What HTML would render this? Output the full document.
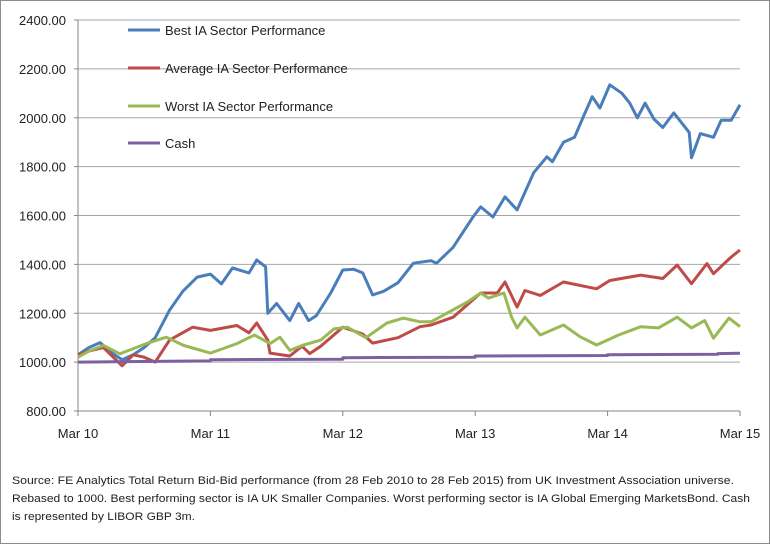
<!DOCTYPE html>
<html><head><meta charset="utf-8"><style>
html,body{margin:0;padding:0;background:#fff}
svg{display:block;font-family:"Liberation Sans",sans-serif}
</style></head><body>
<svg id="chart" width="770" height="544" viewBox="0 0 770 544" xmlns="http://www.w3.org/2000/svg">
<rect x="0.5" y="0.5" width="769" height="543" fill="#fff" stroke="#8c8c8c"/>
<g id="grid"></g>
<g id="yaxis"></g>
<g id="xaxis"></g>
<g id="series"></g>
<g id="legend"></g>
<g font-size="11" fill="#222">
<text x="12" y="484" textLength="722" lengthAdjust="spacingAndGlyphs">Source: FE Analytics Total Return Bid-Bid performance (from 28 Feb 2010 to 28 Feb 2015) from UK Investment Association universe.</text>
<text x="12" y="502" textLength="738" lengthAdjust="spacingAndGlyphs">Rebased to 1000. Best performing sector is IA UK Smaller Companies. Worst performing sector is IA Global Emerging MarketsBond. Cash</text>
<text x="12" y="520" textLength="183" lengthAdjust="spacingAndGlyphs">is represented by LIBOR GBP 3m.</text>
</g>
</svg>
<script>
const yTicks=[800,1000,1200,1400,1600,1800,2000,2200,2400];
const xTickLabels=["Mar 10","Mar 11","Mar 12","Mar 13","Mar 14","Mar 15"];
const seriesNames=["Best IA Sector Performance","Average IA Sector Performance","Worst IA Sector Performance","Cash"];
const bestMonths=[0,1,2,3,4,5,6,7,8.3,9.5,10.8,12,13,14,15.5,16.2,17,17.2,18,19.2,20,20.9,21.6,22.9,24,25,25.8,26.7,27.7,29,30.4,32,32.5,34,35.8,36.5,37.6,38.7,39.8,41.3,42.5,43,44,45,45.8,46.6,47.3,48.2,49.3,50,50.7,51.4,52.2,53,54,55.4,55.6,56.4,57.6,58.3,59.2,60];
const bestValues=[1030,1060,1080,1040,1010,1030,1060,1100,1213,1290,1348,1360,1320,1385,1365,1418,1390,1200,1240,1170,1240,1170,1190,1283,1377,1380,1365,1275,1290,1325,1405,1415,1405,1470,1594,1635,1594,1676,1623,1775,1840,1820,1900,1920,2004,2086,2040,2135,2100,2060,2000,2060,1995,1960,2020,1940,1836,1935,1920,1990,1990,2053];
const avgMonths=[0,1,2.3,4,5,6,7,8.3,10.4,12,14.4,15.5,16.2,17.2,17.4,19.2,20.3,21,22,24,25.8,26.7,29,31,32,34,36.5,38,38.7,39.8,40.5,41.9,44,47,48.2,51,53,54.3,55.6,57,57.6,59.2,60];
const avgValues=[1030,1045,1060,985,1030,1020,1000,1090,1143,1130,1150,1120,1160,1090,1037,1025,1065,1035,1065,1143,1115,1078,1100,1145,1152,1184,1283,1283,1328,1225,1293,1273,1328,1300,1334,1356,1342,1397,1321,1403,1362,1430,1459];
const worstMonths=[0,1,2.3,3.8,6.2,8,9.6,12,14.4,16,17.4,18.3,19.2,20.3,22,23.2,24.4,26.1,28,29.5,31,32,35.3,36.5,37.2,38.6,39.3,39.8,40.5,41.9,44,45.5,47,49,51,52.6,54.3,55.6,56.8,57.6,59,60];
const worstValues=[1020,1045,1068,1034,1076,1102,1068,1037,1076,1111,1076,1102,1048,1068,1090,1136,1143,1100,1160,1180,1165,1165,1246,1283,1262,1283,1184,1140,1184,1111,1152,1104,1070,1111,1145,1140,1184,1140,1170,1098,1180,1145];
const cashMonths=[0,12,12,24,24,36,36,48,48,58,58,60];
const cashValues=[1000,1005,1010,1012,1018,1020,1025,1027,1030,1032,1035,1036];
const colors=["#4a7ebb","#be4b48","#98b954","#7d60a0"];
const NS="http://www.w3.org/2000/svg";
const X0=78,X1=740,Y0=411,Y1=20;
function xs(m){return X0+(X1-X0)*m/60;}
function ys(v){return Y0-(Y0-Y1)*(v-800)/1600;}
function mk(tag,attrs,parent){const e=document.createElementNS(NS,tag);for(const k in attrs)e.setAttribute(k,attrs[k]);parent.appendChild(e);return e;}
const grid=document.getElementById('grid'),ya=document.getElementById('yaxis'),xa=document.getElementById('xaxis'),ser=document.getElementById('series'),leg=document.getElementById('legend');
yTicks.forEach(v=>{
  if(v>800){const l=mk('line',{x1:X0,x2:X1,y1:ys(v),y2:ys(v),stroke:'#a6a6a6','stroke-width':1},grid);
  
  }
  const tk=mk('line',{x1:X0-4,x2:X0,y1:ys(v),y2:ys(v),stroke:'#868686'},ya);
  
  
  const t=mk('text',{x:66,y:ys(v)+5,'text-anchor':'end','font-size':13,fill:'#222'},ya);
  t.textContent=v.toFixed(2);
  
  
});
const yl=mk('line',{x1:X0,x2:X0,y1:Y1,y2:Y0,stroke:'#868686'},ya);


const xl=mk('line',{x1:X0,x2:X1,y1:Y0,y2:Y0,stroke:'#868686'},xa);


xTickLabels.forEach((s,i)=>{
  const x=xs(i*12);
  const tk=mk('line',{x1:x,x2:x,y1:Y0,y2:Y0+5,stroke:'#868686'},xa);
  
  
  const t=mk('text',{x:x,y:438,'text-anchor':'middle','font-size':13,fill:'#222'},xa);
  t.textContent=s;
  
  
});
const all=[[bestMonths,bestValues],[avgMonths,avgValues],[worstMonths,worstValues],[cashMonths,cashValues]];
const sNames=['best-series-line','average-series-line','worst-series-line','cash-series-line'];
all.forEach((s,i)=>{
  const d=s[0].map((m,j)=>(j?'L':'M')+xs(m).toFixed(1)+','+ys(s[1][j]).toFixed(1)).join('');
  const p=mk('path',{d:d,fill:'none',stroke:colors[i],'stroke-width':3,'stroke-linejoin':'round'},ser);
  
  
});
const legY=[30,68,106,143];
seriesNames.forEach((n,i)=>{
  const l=mk('line',{x1:128,x2:160,y1:legY[i],y2:legY[i],stroke:colors[i],'stroke-width':3},leg);
  
  
  const t=mk('text',{x:165,y:legY[i]+5,'font-size':13,fill:'#222'},leg);
  t.textContent=n;
  
  
});
</script>
</body></html>
